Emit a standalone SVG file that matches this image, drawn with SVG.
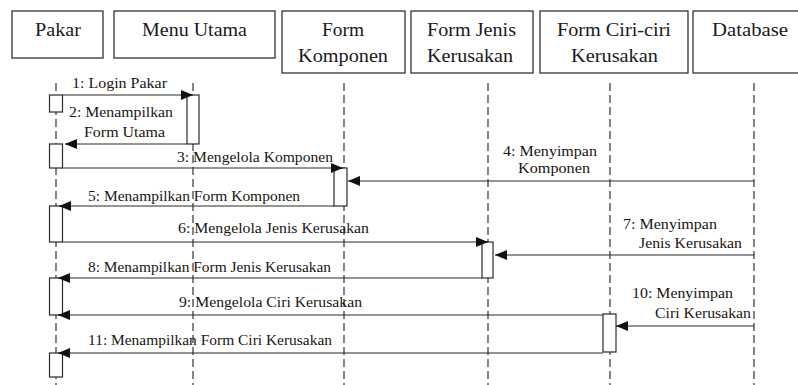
<svg xmlns="http://www.w3.org/2000/svg" width="798" height="385" viewBox="0 0 798 385">
  <style>
    .box { fill: #ffffff; stroke: #333333; stroke-width: 1.3; }
    .act { fill: #ffffff; stroke: #2a2a2a; stroke-width: 1.2; }
    .life { stroke: #333333; stroke-width: 1.2; stroke-dasharray: 8 4; fill: none; }
    .msg { stroke: #2a2a2a; stroke-width: 1.2; fill: none; }
    .title { font-size: 19px; fill: #1a1a1a; text-anchor: middle; }
    .lbl { font-size: 14.5px; fill: #1a1512; }
  </style>
  <defs>
    <marker id="arrow" viewBox="0 0 12 10" refX="12" refY="5" markerWidth="12" markerHeight="10" markerUnits="userSpaceOnUse" orient="auto">
      <path d="M0,0 L12,5 L0,10 Z" fill="#111111"/>
    </marker>
  </defs>

  <rect width="798" height="385" fill="#ffffff"/>

  <!-- lifelines -->
  <g id="lifelines">
    <line class="life" x1="56" y1="83" x2="56" y2="385"/>
    <line class="life" x1="193" y1="83" x2="193" y2="385"/>
    <line class="life" x1="344" y1="83" x2="344" y2="385"/>
    <line class="life" x1="488" y1="83" x2="488" y2="385"/>
    <line class="life" x1="610" y1="83" x2="610" y2="385"/>
    <line class="life" x1="754" y1="83" x2="754" y2="385"/>
  </g>

  <!-- participants -->
  <g font-family="'Liberation Serif', 'DejaVu Serif', serif">
    <g id="pakar">
      <rect class="box" x="12" y="11" width="91" height="47"/>
      <text class="title" x="58" y="36" textLength="46" lengthAdjust="spacingAndGlyphs">Pakar</text>
    </g>
    <g id="menu-utama">
      <rect class="box" x="114" y="11" width="161" height="47"/>
      <text class="title" x="194.5" y="36" textLength="105" lengthAdjust="spacingAndGlyphs">Menu Utama</text>
    </g>
    <g id="form-komponen">
      <rect class="box" x="282" y="11" width="123" height="62"/>
      <text class="title" x="343" y="36" textLength="42" lengthAdjust="spacingAndGlyphs">Form</text>
      <text class="title" x="343" y="62" textLength="90" lengthAdjust="spacingAndGlyphs">Komponen</text>
    </g>
    <g id="form-jenis-kerusakan">
      <rect class="box" x="411" y="11" width="122" height="62"/>
      <text class="title" x="471.5" y="36" textLength="89" lengthAdjust="spacingAndGlyphs">Form Jenis</text>
      <text class="title" x="470" y="62" textLength="86" lengthAdjust="spacingAndGlyphs">Kerusakan</text>
    </g>
    <g id="form-ciri-kerusakan">
      <rect class="box" x="540" y="11" width="148" height="62"/>
      <text class="title" x="614" y="36" textLength="114" lengthAdjust="spacingAndGlyphs">Form Ciri-ciri</text>
      <text class="title" x="614.5" y="62" textLength="87" lengthAdjust="spacingAndGlyphs">Kerusakan</text>
    </g>
    <g id="database">
      <rect class="box" x="693" y="11" width="110" height="62"/>
      <text class="title" x="750" y="36" textLength="76" lengthAdjust="spacingAndGlyphs">Database</text>
    </g>
  </g>

  <!-- activation bars -->
  <g id="activations">
    <rect class="act" x="49.5" y="95" width="13" height="17"/>
    <rect class="act" x="187" y="95" width="12" height="49"/>
    <rect class="act" x="49.5" y="144" width="13" height="24"/>
    <rect class="act" x="334" y="168" width="13" height="38"/>
    <rect class="act" x="49.5" y="206" width="13" height="36"/>
    <rect class="act" x="482" y="242" width="11" height="36"/>
    <rect class="act" x="49.5" y="278" width="13" height="37"/>
    <rect class="act" x="603" y="314" width="13" height="38"/>
    <rect class="act" x="49.5" y="353" width="13" height="24"/>
  </g>

  <!-- messages -->
  <g id="connectors">
    <line class="msg" x1="62.5" y1="95" x2="193" y2="95" marker-end="url(#arrow)"/>
    <line class="msg" x1="187" y1="144" x2="65" y2="144" marker-end="url(#arrow)"/>
    <line class="msg" x1="62.5" y1="168" x2="343" y2="168" marker-end="url(#arrow)"/>
    <line class="msg" x1="754" y1="181" x2="348" y2="181" marker-end="url(#arrow)"/>
    <line class="msg" x1="334" y1="206" x2="59" y2="206" marker-end="url(#arrow)"/>
    <line class="msg" x1="62.5" y1="242" x2="488" y2="242" marker-end="url(#arrow)"/>
    <line class="msg" x1="754" y1="255" x2="495" y2="255" marker-end="url(#arrow)"/>
    <line class="msg" x1="482" y1="278" x2="58" y2="278" marker-end="url(#arrow)"/>
    <line class="msg" x1="603" y1="315" x2="58" y2="315" marker-end="url(#arrow)"/>
    <line class="msg" x1="754" y1="326" x2="616" y2="326" marker-end="url(#arrow)"/>
    <line class="msg" x1="603" y1="353" x2="58" y2="353" marker-end="url(#arrow)"/>
  </g>

  <!-- message labels -->
  <g id="labels" font-family="'Liberation Serif', 'DejaVu Serif', serif">
    <text class="lbl" x="72" y="88" textLength="95" lengthAdjust="spacingAndGlyphs">1: Login  Pakar</text>
    <text class="lbl" x="69" y="117" textLength="104" lengthAdjust="spacingAndGlyphs">2: Menampilkan</text>
    <text class="lbl" x="84" y="137" textLength="81" lengthAdjust="spacingAndGlyphs">Form Utama</text>
    <text class="lbl" x="177" y="162" textLength="156" lengthAdjust="spacingAndGlyphs">3: Mengelola Komponen</text>
    <text class="lbl" x="503" y="156" textLength="94" lengthAdjust="spacingAndGlyphs">4: Menyimpan</text>
    <text class="lbl" x="518" y="173" textLength="72" lengthAdjust="spacingAndGlyphs">Komponen</text>
    <text class="lbl" x="88" y="201" textLength="212" lengthAdjust="spacingAndGlyphs">5: Menampilkan Form Komponen</text>
    <text class="lbl" x="178" y="233" textLength="191" lengthAdjust="spacingAndGlyphs">6: Mengelola  Jenis Kerusakan</text>
    <text class="lbl" x="623" y="229" textLength="94" lengthAdjust="spacingAndGlyphs">7: Menyimpan</text>
    <text class="lbl" x="639" y="248" textLength="103" lengthAdjust="spacingAndGlyphs">Jenis Kerusakan</text>
    <text class="lbl" x="88" y="272" textLength="243" lengthAdjust="spacingAndGlyphs">8: Menampilkan Form Jenis Kerusakan</text>
    <text class="lbl" x="179" y="307" textLength="183" lengthAdjust="spacingAndGlyphs">9: Mengelola  Ciri Kerusakan</text>
    <text class="lbl" x="632" y="298" textLength="101" lengthAdjust="spacingAndGlyphs">10: Menyimpan</text>
    <text class="lbl" x="655" y="318" textLength="96" lengthAdjust="spacingAndGlyphs">Ciri Kerusakan</text>
    <text class="lbl" x="88" y="345" textLength="244" lengthAdjust="spacingAndGlyphs">11: Menampilkan Form Ciri Kerusakan</text>
  </g>
</svg>
